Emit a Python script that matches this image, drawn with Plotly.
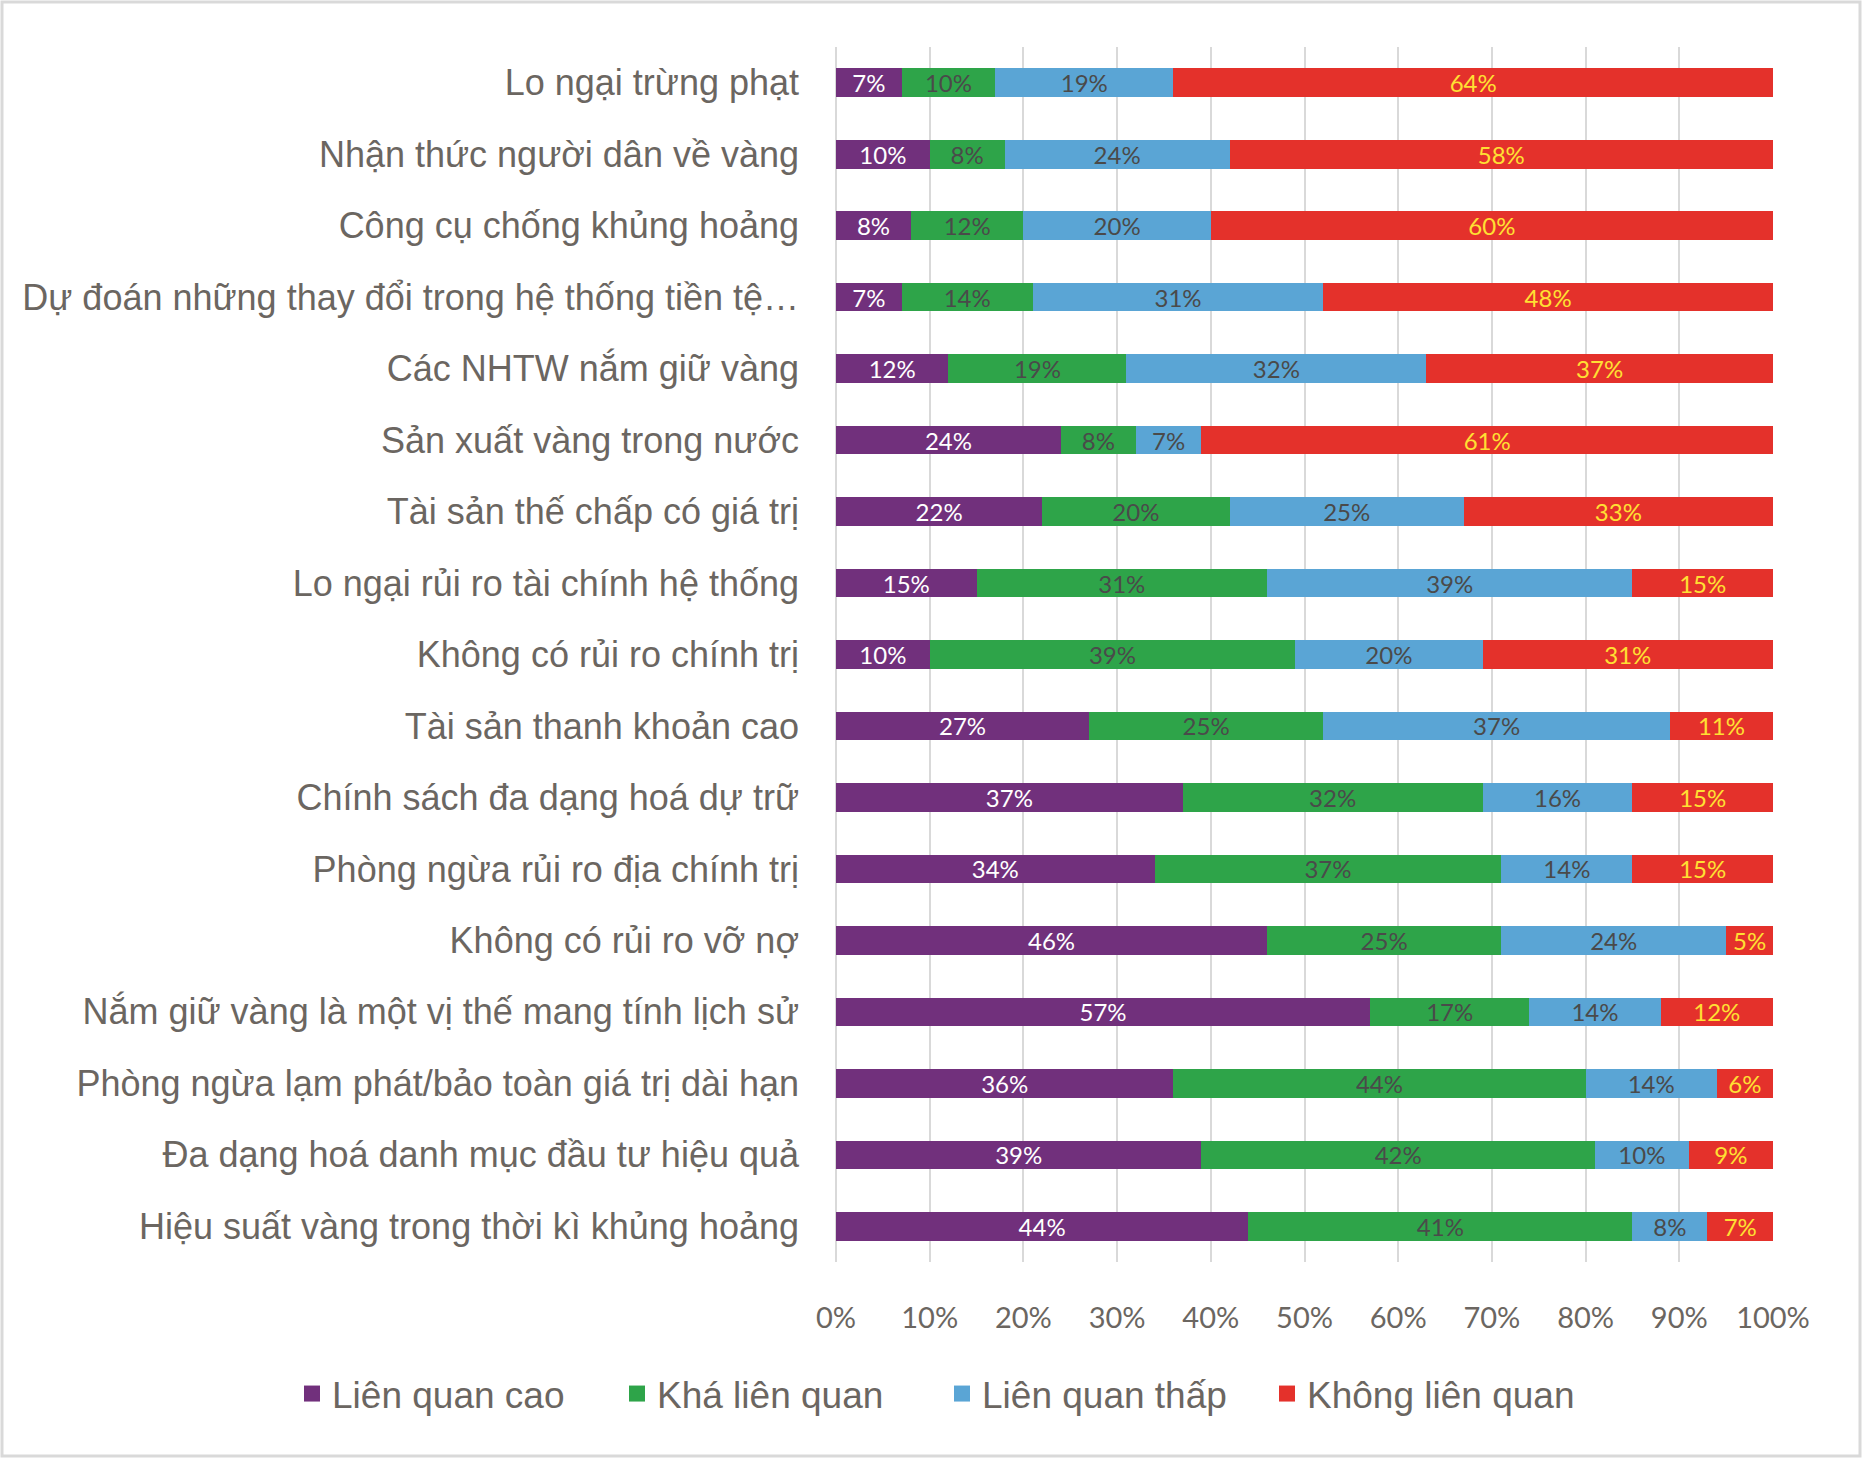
import plotly.graph_objects as go

categories = [
    "Lo ngại trừng phạt",
    "Nhận thức người dân về vàng",
    "Công cụ chống khủng hoảng",
    "Dự đoán những thay đổi trong hệ thống tiền tệ…",
    "Các NHTW nắm giữ vàng",
    "Sản xuất vàng trong nước",
    "Tài sản thế chấp có giá trị",
    "Lo ngại rủi ro tài chính hệ thống",
    "Không có rủi ro chính trị",
    "Tài sản thanh khoản cao",
    "Chính sách đa dạng hoá dự trữ",
    "Phòng ngừa rủi ro địa chính trị",
    "Không có rủi ro vỡ nợ",
    "Nắm giữ vàng là một vị thế mang tính lịch sử",
    "Phòng ngừa lạm phát/bảo toàn giá trị dài hạn",
    "Đa dạng hoá danh mục đầu tư hiệu quả",
    "Hiệu suất vàng trong thời kì khủng hoảng",
]

lien_quan_cao = [7, 10, 8, 7, 12, 24, 22, 15, 10, 27, 37, 34, 46, 57, 36, 39, 44]
kha_lien_quan = [10, 8, 12, 14, 19, 8, 20, 31, 39, 25, 32, 37, 25, 17, 44, 42, 41]
lien_quan_thap = [19, 24, 20, 31, 32, 7, 25, 39, 20, 37, 16, 14, 24, 14, 14, 10, 8]
khong_lien_quan = [64, 58, 60, 48, 37, 61, 33, 15, 31, 11, 15, 15, 5, 12, 6, 9, 7]

series_names = ["Liên quan cao", "Khá liên quan", "Liên quan thấp", "Không liên quan"]
x_ticks = list(range(0, 101, 10))

series = [lien_quan_cao, kha_lien_quan, lien_quan_thap, khong_lien_quan]
colors = ["#71307C", "#2EA449", "#5AA5D5", "#E4312B"]
text_colors = ["#FFFFFF", "#4A4A4A", "#4A4A4A", "#FFE033"]

fig = go.Figure()
for name, vals, c, tc in zip(series_names, series, colors, text_colors):
    fig.add_trace(go.Bar(
        y=categories, x=vals, name=name, orientation="h",
        marker=dict(color=c, line=dict(width=0)),
        text=[f"{v}%" for v in vals], textposition="inside",
        insidetextanchor="middle", textangle=0,
        textfont=dict(color=tc, size=24, family="Lato, Open Sans, sans-serif"),
        hoverinfo="skip", showlegend=False,
    ))
# legend entries (square swatches)
for name, c in zip(series_names, colors):
    fig.add_trace(go.Scatter(
        x=[None], y=[None], mode="markers", name=name,
        marker=dict(symbol="square", size=16, color=c, line=dict(width=0)),
        showlegend=True, hoverinfo="skip",
    ))

W, H = 1863, 1459
L, R, T, B = 836, 90, 47, 197
pw, ph = W - L - R, H - T - B

fig.update_layout(
    width=W, height=H,
    barmode="stack", bargap=0.6,
    margin=dict(l=L, r=R, t=T, b=B, pad=0, autoexpand=False),
    paper_bgcolor="white", plot_bgcolor="white",
    uniformtext=dict(minsize=24, mode="show"),
    legend=dict(
        orientation="h", xref="paper", yref="paper",
        x=(292 - L) / pw, xanchor="left",
        y=(T + ph - 1394) / ph, yanchor="middle",
        font=dict(family="Liberation Sans, Arial, sans-serif", size=37, color="#6B6661"),
        traceorder="normal", itemclick=False, itemwidth=30,
        entrywidth=280, entrywidthmode="pixels",
    ),
    xaxis=dict(
        range=[0, 100], tickvals=x_ticks, ticktext=[f"{t}%" for t in x_ticks],
        showgrid=True, gridcolor="#D9D9D9", gridwidth=2,
        zeroline=True, zerolinecolor="#D9D9D9", zerolinewidth=2,
        showline=False, ticks="", automargin=False,
        tickfont=dict(family="Lato, Open Sans, sans-serif", size=29, color="#6B6661"),
        ticklabelstandoff=36,
    ),
    yaxis=dict(
        autorange="reversed", showgrid=False, showline=False, ticks="",
        automargin=False,
        tickfont=dict(family="Liberation Sans, Arial, sans-serif", size=36, color="#6B6661"),
        ticklabelstandoff=36,
    ),
    shapes=[dict(
        type="rect", xref="paper", yref="paper",
        x0=(2 - L) / pw, x1=(W - 3 - L) / pw,
        y0=(T + ph - (H - 3)) / ph, y1=(T + ph - 2) / ph,
        line=dict(color="#D9D9D9", width=3), fillcolor="rgba(0,0,0,0)", layer="below",
    )],
)

fig.write_html("out.html")
